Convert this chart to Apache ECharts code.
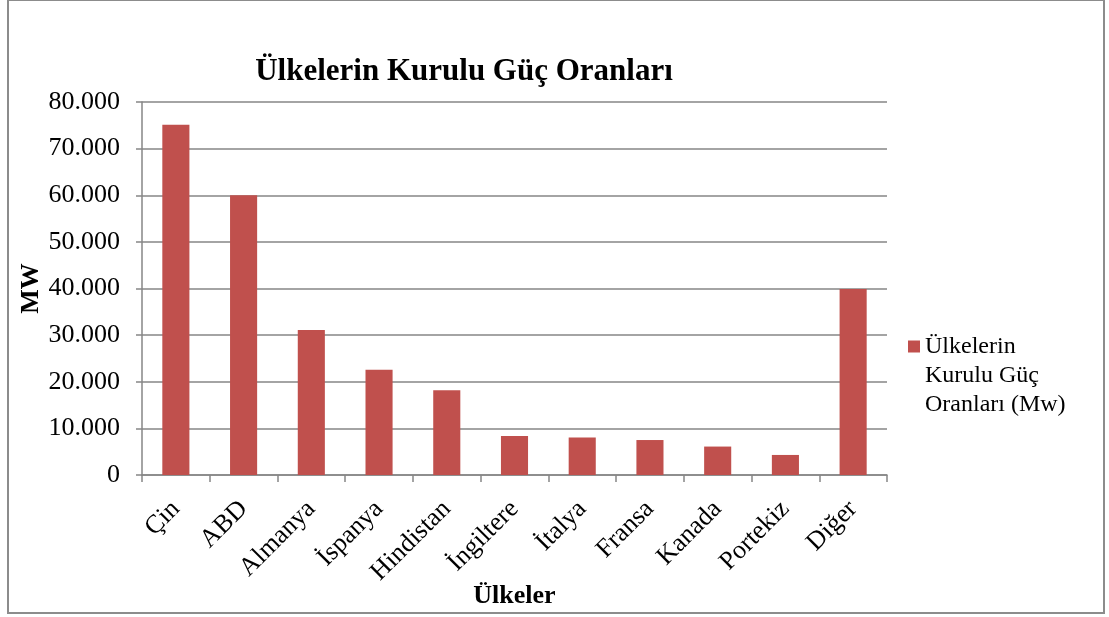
<!DOCTYPE html>
<html>
<head>
<meta charset="utf-8">
<script src="https://cdn.jsdelivr.net/npm/echarts@6/dist/echarts.min.js"></script>
<style>html,body{margin:0;padding:0;background:#fff}#c{width:1109px;height:617px}</style>
</head>
<body>
<div id="c"></div>
<script>
var categories = ['Çin','ABD','Almanya','İspanya','Hindistan','İngiltere','İtalya','Fransa','Kanada','Portekiz','Diğer'];
var values = [75100, 60000, 31100, 22600, 18200, 8350, 8050, 7500, 6100, 4300, 39900];
var seriesName = 'Ülkelerin\nKurulu Güç\nOranları (Mw)';
var titleText = 'Ülkelerin Kurulu Güç Oranları';
var xName = 'Ülkeler';
var yName = 'MW';

var serif = "'Liberation Serif','Times New Roman',serif";
var chart = echarts.init(document.getElementById('c'), null, {renderer:'canvas'});
function fmt(v){ return String(v).replace(/\B(?=(\d{3})+(?!\d))/g, '.'); }
chart.setOption({
  animation:false,
  backgroundColor:'#fff',
  graphic:[{type:'rect', shape:{x:8,y:0,width:1096,height:613}, style:{fill:'none', stroke:'#8c8c8c', lineWidth:2}, silent:true}],
  title:{text:titleText, left:459, top:51, textAlign:'center',
    textStyle:{fontFamily:serif, fontWeight:'bold', fontSize:31, color:'#000'}},
  legend:{show:true, left:903, top:327, orient:'vertical', itemWidth:12, itemHeight:70, itemGap:0,
    icon:'path://M0,0h12v12h-12zM0,70',
    textStyle:{fontFamily:serif, fontSize:24, color:'#000', lineHeight:29}},
  grid:{left:142, right:222, top:102, bottom:142, containLabel:false, outerBoundsMode:'none'},
  xAxis:{type:'category', data:categories,
    name:xName, nameLocation:'middle', nameGap:108, nameMoveOverlap:false,
    nameTextStyle:{fontFamily:serif, fontWeight:'bold', fontSize:26, color:'#000'},
    axisLine:{lineStyle:{color:'#868686', width:1.5}},
    axisTick:{show:true, alignWithLabel:false, length:7, lineStyle:{color:'#868686', width:1.5}},
    axisLabel:{rotate:45, interval:0, margin:30, padding:[18,0,0,0], fontFamily:serif, fontSize:26, color:'#000'}},
  yAxis:{type:'value', min:0, max:80000, interval:10000,
    name:yName, nameLocation:'middle', nameGap:98, nameRotate:90, nameMoveOverlap:false,
    nameTextStyle:{fontFamily:serif, fontWeight:'bold', fontSize:26, color:'#000'},
    axisLine:{show:true, lineStyle:{color:'#868686', width:1.5}},
    axisTick:{show:true, length:6, lineStyle:{color:'#868686', width:1.5}},
    splitLine:{lineStyle:{color:'#868686', width:1.5}},
    axisLabel:{formatter:fmt, margin:22, fontFamily:serif, fontSize:26, color:'#000'}},
  series:[{type:'bar', name:seriesName, data:values, barCategoryGap:'60%',
    itemStyle:{color:'#C0504D'}}]
});
</script>
</body>
</html>
